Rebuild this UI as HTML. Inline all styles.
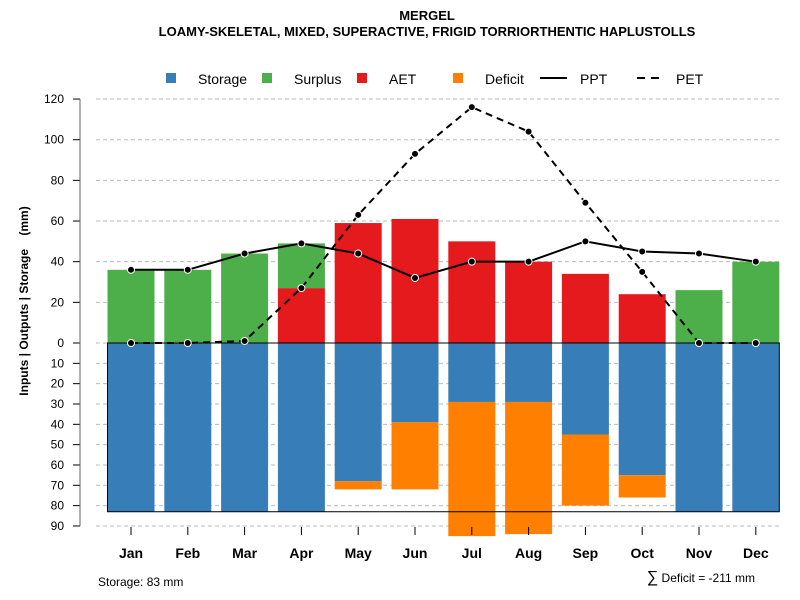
<!DOCTYPE html>
<html><head><meta charset="utf-8"><style>
body{margin:0;background:#fff}
svg{font-family:"Liberation Sans",sans-serif;display:block}
</style></head><body>
<svg id="c" width="800" height="600">
<text x="427" y="20" text-anchor="middle" font-size="13" font-weight="bold">MERGEL</text>
<text x="427" y="36" text-anchor="middle" font-size="13" font-weight="bold">LOAMY-SKELETAL, MIXED, SUPERACTIVE, FRIGID TORRIORTHENTIC HAPLUSTOLLS</text>
<g id="legend" font-size="14">
<rect x="166" y="73" width="10" height="10" fill="#377EB8"/><text x="198" y="84">Storage</text>
<rect x="262" y="73" width="10" height="10" fill="#4DAF4A"/><text x="294" y="84">Surplus</text>
<rect x="357" y="73" width="10" height="10" fill="#E41A1C"/><text x="389" y="84">AET</text>
<rect x="453" y="73" width="10" height="10" fill="#FF7F00"/><text x="485" y="84">Deficit</text>
<line x1="540" y1="78" x2="567" y2="78" stroke="#000" stroke-width="2"/><text x="580" y="84">PPT</text>
<line x1="637" y1="78" x2="664" y2="78" stroke="#000" stroke-width="2" stroke-dasharray="8,6"/><text x="676" y="84">PET</text>
</g>
<text transform="translate(28,301) rotate(-90)" text-anchor="middle" font-size="12" font-weight="bold" style="white-space:pre" xml:space="preserve">Inputs | Outputs | Storage    (mm)</text>
<text x="98" y="586" font-size="12">Storage: 83 mm</text>
<text x="755" y="582" text-anchor="end" font-size="12"><tspan font-size="16">∑</tspan> Deficit = -211 mm</text>
<g id="plot"></g>
</svg>
<script>
const months=["Jan","Feb","Mar","Apr","May","Jun","Jul","Aug","Sep","Oct","Nov","Dec"];
const ppt=[36,36,44,49,44,32,40,40,50,45,44,40];
const pet=[0,0,1,27,63,93,116,104,69,35,0,0];
const aet=[0,0,0,27,59,61,50,40,34,24,0,0];
const surplus=[36,36,44,22,0,0,0,0,0,0,26,40];
const storage=[83,83,83,83,68,39,29,29,45,65,83,83];
const deficit=[0,0,0,0,4,33,66,65,35,11,0,0];
const posTicks=[0,20,40,60,80,100,120];
const negTicks=[10,20,30,40,50,60,70,80,90];
const maxStorage=83;
const NS="http://www.w3.org/2000/svg";
const g=document.getElementById('plot');
const y=v=>343-v*2.033;
const x=i=>131+i*56.8;
const bw=47;
function mk(t,a){const e=document.createElementNS(NS,t);for(const k in a)e.setAttribute(k,a[k]);g.appendChild(e);return e;}
posTicks.forEach(t=>{
 const l=mk('line',{x1:96,x2:780,y1:y(t),y2:y(t),stroke:'#bbb','stroke-dasharray':'4,3'});
 
 
 mk('line',{x1:73,x2:80,y1:y(t),y2:y(t),stroke:'#000'});
 const tx=mk('text',{x:64,y:y(t)+4,'text-anchor':'end','font-size':12});tx.textContent=t;
 
 
});
negTicks.forEach(t=>{
 const l=mk('line',{x1:96,x2:780,y1:y(-t),y2:y(-t),stroke:'#bbb','stroke-dasharray':'4,3'});
 
 
 mk('line',{x1:73,x2:80,y1:y(-t),y2:y(-t),stroke:'#000'});
 const tx=mk('text',{x:64,y:y(-t)+4,'text-anchor':'end','font-size':12});tx.textContent=t;
 
 
});
mk('line',{x1:80,x2:80,y1:y(120),y2:y(-90),stroke:'#666'});
months.forEach((m,i)=>{
 const x0=x(i)-bw/2;
 let r;
 if(aet[i]>0){r=mk('rect',{x:x0,y:y(aet[i]),width:bw,height:aet[i]*2.033,fill:'#E41A1C'});
  
  }
 if(surplus[i]>0){r=mk('rect',{x:x0,y:y(aet[i]+surplus[i]),width:bw,height:surplus[i]*2.033,fill:'#4DAF4A'});
  
  }
 r=mk('rect',{x:x0,y:y(0),width:bw,height:storage[i]*2.033,fill:'#377EB8'});
 
 
 if(deficit[i]>0){r=mk('rect',{x:x0,y:y(-storage[i]),width:bw,height:deficit[i]*2.033,fill:'#FF7F00'});
  
  }
 mk('line',{x1:x(i),x2:x(i),y1:y(-90)+1,y2:y(-90)+9,stroke:'#000'});
 const tx=mk('text',{x:x(i),y:558,'text-anchor':'middle','font-size':14,'font-weight':'bold'});tx.textContent=m;
 
 
});
const bx=mk('rect',{x:x(0)-bw/2,y:y(0),width:x(11)-x(0)+bw,height:maxStorage*2.033,fill:'none',stroke:'#000'});


function line(arr,dash,name){
 const p=mk('polyline',{points:arr.map((v,i)=>x(i)+','+y(v)).join(' '),fill:'none',stroke:'#000','stroke-width':2,'stroke-dasharray':dash});
 
 
 arr.forEach((v,i)=>{const c=mk('circle',{cx:x(i),cy:y(v),r:3.5,fill:'#000',stroke:'#fff','stroke-width':1});
  
  });
}
line(pet,'7,5','pet-line');
line(ppt,'none','ppt-line');
</script>
</body></html>
